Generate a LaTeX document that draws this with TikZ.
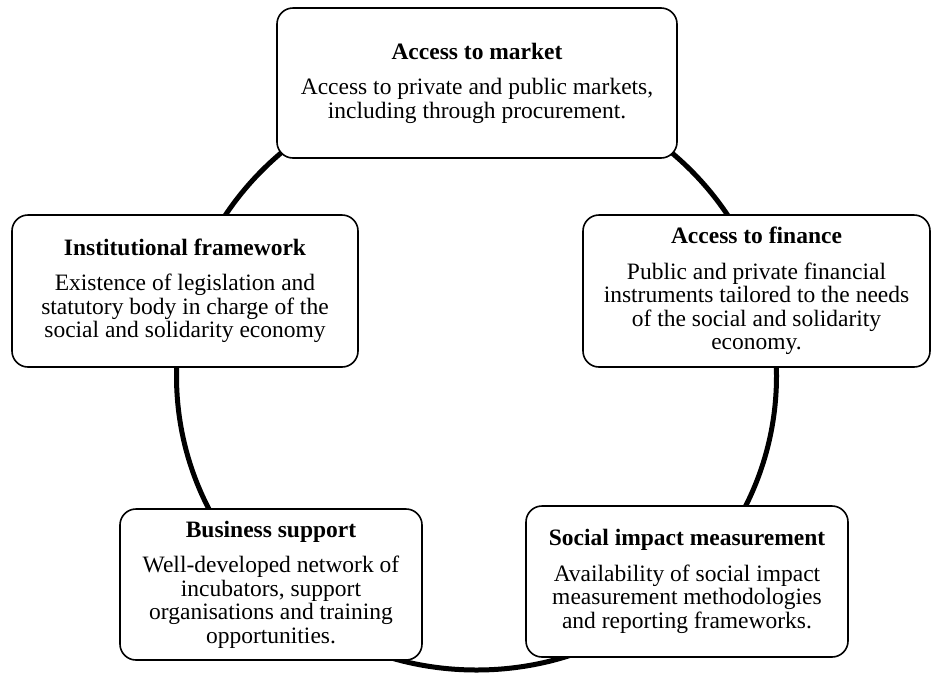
\documentclass[tikz,border=0pt]{standalone}
\usepackage{fontspec}
\setmainfont{Liberation Serif}
\tikzset{
  pillar/.style={draw, line width=1.6pt, rounded corners=16pt, fill=white,
    align=center, inner sep=0pt, font=\fontsize{23.5}{23.5}\selectfont},
  ring/.style={line width=5pt}
}

\begin{document}
\begin{tikzpicture}[x=1pt,y=-1pt]
			%%%%% START %%%%%
			\useasboundingbox (0,0) rectangle (932,673);
			
			% ring behind the boxes
			\coordinate (hub) at (476.5,376);
			\draw[ring] (hub) ellipse [x radius=300, y radius=294];
			
			\node[pillar, minimum width=400pt, minimum height=150pt] (market) at (477,83)
			  {\textbf{Access to market}\\[12pt]Access to private and public markets,\\including through procurement.};
			
			\node[pillar, minimum width=346pt, minimum height=152pt] (institution) at (185,291)
			  {\textbf{Institutional framework}\\[12pt]Existence of legislation and\\statutory body in charge of the\\social and solidarity economy};
			
			\node[pillar, minimum width=347pt, minimum height=152pt] (finance) at (756.5,291)
			  {\textbf{Access to finance}\\[12pt]Public and private financial\\instruments tailored to the needs\\of the social and solidarity\\economy.};
			
			\node[pillar, minimum width=302pt, minimum height=151pt] (business) at (271,584.5)
			  {\textbf{Business support}\\[12pt]Well-developed network of\\incubators, support\\organisations and training\\opportunities.};
			
			\node[pillar, minimum width=322pt, minimum height=151pt] (impact) at (687,581.5)
			  {\textbf{Social impact measurement}\\[12pt]Availability of social impact\\measurement methodologies\\and reporting frameworks.};
			%%%%% END %%%%%
		\end{tikzpicture}
\end{document}
